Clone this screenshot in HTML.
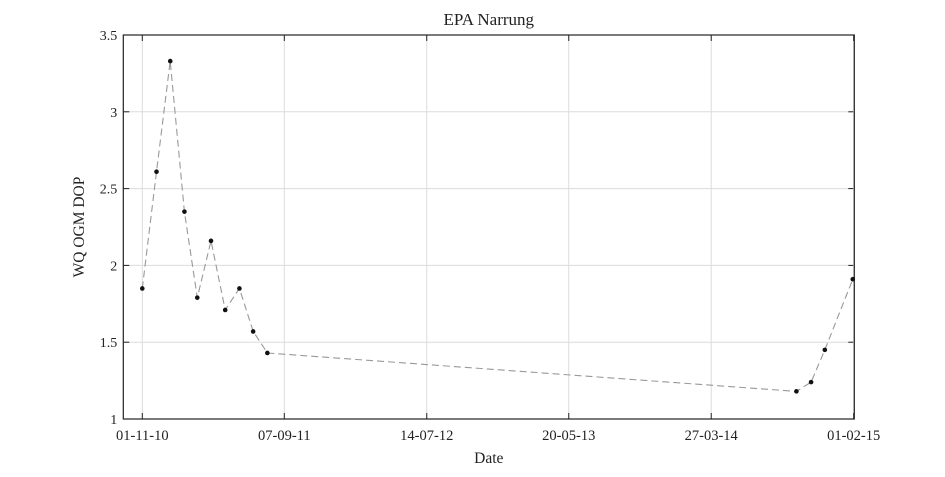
<!DOCTYPE html>
<html><head><meta charset="utf-8"><style>
html,body{margin:0;padding:0;background:#fff;}
svg text{font-family:"Liberation Serif",serif;fill:#222;}
</style></head><body>
<svg id="chart" width="945" height="472" xmlns="http://www.w3.org/2000/svg"></svg>
<script>
const pointDates = ["2010-11-01","2010-12-02","2011-01-01","2011-02-01","2011-03-01","2011-03-31","2011-05-01","2011-06-01","2011-07-01","2011-08-01","2014-09-29","2014-10-31","2014-11-30","2015-01-30"];
const dopValues = [1.85,2.61,3.33,2.35,1.79,2.16,1.71,1.85,1.57,1.43,1.18,1.24,1.45,1.91];
const xTickDates = ["2010-11-01","2011-09-07","2012-07-14","2013-05-20","2014-03-27","2015-02-01"];
const xTickLabels = ["01-11-10","07-09-11","14-07-12","20-05-13","27-03-14","01-02-15"];
const yTicks = [1,1.5,2,2.5,3,3.5];
const yTickLabels = ["1","1.5","2","2.5","3","3.5"];

const svg = document.getElementById('chart');
const NS = "http://www.w3.org/2000/svg";
const L=123.3,R=854.3,T=35,B=419;
const day = s => Date.parse(s+"T00:00:00Z")/86400000;
const d0 = day("2010-11-01"), pxPerDay = 142/310, x0 = 142.3;
const xs = s => x0 + (day(s)-d0)*pxPerDay;
const ys = v => B - (v-1)/(2.5)*(B-T);
function mk(tag, attrs, parent){const e=document.createElementNS(NS,tag);for(const k in attrs)e.setAttribute(k,attrs[k]);(parent||svg).appendChild(e);return e;}

yTicks.forEach((v,i)=>{
  const y=ys(v);
  const g=mk('line',{x1:L,x2:R,y1:y,y2:y,stroke:'#dcdcdc','stroke-width':1});
  
  
  mk('line',{x1:L,x2:L+6,y1:y,y2:y,stroke:'#222'});
  mk('line',{x1:R-6,x2:R,y1:y,y2:y,stroke:'#222'});
  const t=mk('text',{x:L-6,y:y+5,'text-anchor':'end','font-size':14});
  t.textContent=yTickLabels[i];
  
  
});
xTickDates.forEach((d,i)=>{
  const x=xs(d);
  const g=mk('line',{x1:x,x2:x,y1:T,y2:B,stroke:'#dcdcdc','stroke-width':1});
  
  
  mk('line',{x1:x,x2:x,y1:B,y2:B-6,stroke:'#222'});
  mk('line',{x1:x,x2:x,y1:T,y2:T+6,stroke:'#222'});
  const t=mk('text',{x:x,y:B+21,'text-anchor':'middle','font-size':14.5});
  t.textContent=xTickLabels[i];
  
  
});
const box=mk('rect',{x:L,y:T,width:R-L,height:B-T,fill:'none',stroke:'#222','stroke-width':1.2});



const pts=pointDates.map((d,i)=>xs(d).toFixed(1)+','+ys(dopValues[i]).toFixed(1)).join(' ');
const line=mk('polyline',{points:pts,fill:'none',stroke:'#999','stroke-width':1.1,'stroke-dasharray':'7,4'});


pointDates.forEach((d,i)=>{
  const c=mk('circle',{cx:xs(d),cy:ys(dopValues[i]),r:2.3,fill:'#111'});
  
  
});

const title=mk('text',{x:(L+R)/2,y:25,'text-anchor':'middle','font-size':17});
title.textContent='EPA Narrung';


const xl=mk('text',{x:(L+R)/2,y:463,'text-anchor':'middle','font-size':15.5});
xl.textContent='Date';


const yl=mk('text',{x:0,y:0,'text-anchor':'middle','font-size':15.5,transform:'translate(84,'+((T+B)/2)+') rotate(-90)'});
yl.textContent='WQ OGM DOP';


</script>
</body></html>
